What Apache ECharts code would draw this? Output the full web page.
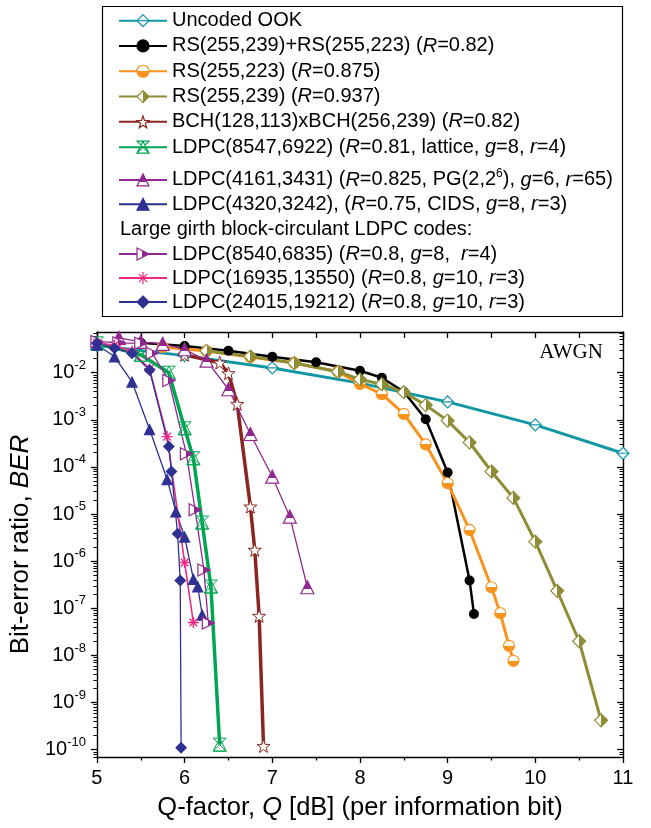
<!DOCTYPE html>
<html><head><meta charset="utf-8">
<script src="https://cdn.jsdelivr.net/npm/echarts@6/dist/echarts.min.js"></script>
<style>html,body{margin:0;padding:0;background:#fff}#c{width:651px;height:828px}</style>
</head><body><div id="c"></div>
<script>
// ---------- data (Q in dB, BER) ----------
const uncodedQ = [5, 6, 7, 8, 9, 10, 11];
const uncodedBER = [3.77e-2, 2.3e-2, 1.26e-2, 6.0e-3, 2.4e-3, 7.8e-4, 1.95e-4];

const rsrsQ = [5.5, 6, 6.5, 7, 7.5, 8, 8.25, 8.5, 8.75, 9, 9.25, 9.3];
const rsrsBER = [4.3e-2, 3.68e-2, 2.92e-2, 2.18e-2, 1.66e-2, 1.1e-2, 7.8e-3, 3.95e-3, 1.03e-3, 7.6e-5, 3.9e-7, 7.6e-8];

const rs223Q = [5.75, 6.25, 6.75, 7.25, 7.75, 8, 8.25, 8.5, 8.75, 9, 9.25, 9.5, 9.6, 9.7, 9.75];
const rs223BER = [3.5e-2, 2.88e-2, 2.15e-2, 1.61e-2, 1.05e-2, 5.8e-3, 3.5e-3, 1.33e-3, 3.0e-4, 4.5e-5, 4.6e-6, 2.8e-7, 7.9e-8, 1.6e-8, 7.7e-9];

const rs239Q = [6.25, 6.75, 7.25, 7.75, 8, 8.25, 8.5, 8.75, 9, 9.25, 9.5, 9.75, 10, 10.25, 10.5, 10.75];
const rs239BER = [2.9e-2, 2.2e-2, 1.6e-2, 1.05e-2, 7.2e-3, 5.7e-3, 3.85e-3, 2.05e-3, 9.6e-4, 3.3e-4, 8.0e-5, 2.2e-5, 2.6e-6, 2.35e-7, 2.0e-8, 4.2e-10];

const bchQ = [6, 6.4, 6.5, 6.6, 6.75, 6.8, 6.85, 6.9];
const bchBER = [2.4e-2, 1.63e-2, 9.7e-3, 2.17e-3, 1.44e-5, 1.74e-6, 6.9e-8, 1.2e-10];

const latticeQ = [5.0, 5.5, 5.82, 6.0, 6.1, 6.2, 6.3, 6.4];
const latticeBER = [4.2e-2, 2.4e-2, 1.0e-2, 6.6e-4, 1.53e-4, 6.6e-6, 2.9e-7, 1.28e-10];

const pgQ = [5.25, 5.5, 5.75, 6, 6.25, 6.5, 6.75, 7, 7.2, 7.4];
const pgBER = [5.5e-2, 4.5e-2, 4.07e-2, 3.14e-2, 1.8e-2, 4.45e-3, 5.0e-4, 6.2e-5, 8.8e-6, 2.8e-7];

const cidsQ = [5.0, 5.2, 5.4, 5.6, 5.8, 5.9, 6.0, 6.1, 6.15, 6.2];
const cidsBER = [3.9e-2, 2.2e-2, 6.4e-3, 6.3e-4, 5.5e-5, 1.13e-5, 3.3e-6, 4.2e-7, 2.9e-7, 7.3e-8];

const bc8540Q = [5.0, 5.25, 5.5, 5.63, 5.82, 6.02, 6.12, 6.22, 6.27];
const bc8540BER = [4.6e-2, 4.3e-2, 4.2e-2, 2.58e-2, 6.8e-3, 1.9e-4, 1.23e-5, 6.5e-7, 4.85e-8];

const bc16935Q = [5.0, 5.2, 5.4, 5.6, 5.8, 6.0, 6.1];
const bc16935BER = [4.3e-2, 3.8e-2, 2.8e-2, 1.2e-2, 4.4e-4, 9.35e-7, 5.0e-8];

const bc24015Q = [5.0, 5.2, 5.4, 5.6, 5.82, 5.85, 5.92, 5.95, 5.96];
const bc24015BER = [4.2e-2, 3.3e-2, 2.58e-2, 1.14e-2, 2.7e-4, 8.0e-5, 3.8e-6, 3.9e-7, 1.1e-10];

const seriesNames = [
  'Uncoded OOK',
  'RS(255,239)+RS(255,223) (R=0.82)',
  'RS(255,223) (R=0.875)',
  'RS(255,239) (R=0.937)',
  'BCH(128,113)xBCH(256,239) (R=0.82)',
  'LDPC(8547,6922) (R=0.81, lattice, g=8, r=4)',
  'LDPC(4161,3431) (R=0.825, PG(2,2^6), g=6, r=65)',
  'LDPC(4320,3242), (R=0.75, CIDS, g=8, r=3)',
  'LDPC(8540,6835) (R=0.8, g=8,  r=4)',
  'LDPC(16935,13550) (R=0.8, g=10, r=3)',
  'LDPC(24015,19212) (R=0.8, g=10, r=3)'
];
const legendRich = [
  'Uncoded OOK',
  'RS(255,239)+RS(255,223) ({i|R}=0.82)',
  'RS(255,223) ({i|R}=0.875)',
  'RS(255,239) ({i|R}=0.937)',
  'BCH(128,113)xBCH(256,239) ({i|R}=0.82)',
  'LDPC(8547,6922) ({i|R}=0.81, lattice, {i|g}=8, {i|r}=4)',
  'LDPC(4161,3431) ({i|R}=0.825, PG(2,2{s|6}), {i|g}=6, {i|r}=65)',
  'LDPC(4320,3242), ({i|R}=0.75, CIDS, {i|g}=8, {i|r}=3)',
  'LDPC(8540,6835) ({i|R}=0.8, {i|g}=8,  {i|r}=4)',
  'LDPC(16935,13550) ({i|R}=0.8, {i|g}=10, {i|r}=3)',
  'LDPC(24015,19212) ({i|R}=0.8, {i|g}=10, {i|r}=3)'
];
const legendHeader = 'Large girth block-circulant LDPC codes:';
const yMajor = [-10, -9, -8, -7, -6, -5, -4, -3, -2];
const xTitle = 'Q-factor, {i|Q} [dB] (per information bit)';
const yTitle = 'Bit-error ratio, {i|BER}';

// ---------- styling ----------
const Y_MIN = -10.155, Y_MAX = -1.137;
const FONT = 'Liberation Sans';
const C = {
  teal: '#1097A3', black: '#000000', orange: '#F7931E', olive: '#8E8C35',
  red: '#8B2520', green: '#00A651', purple: '#92278F', navy: '#2E3192', pink: '#EC2A84'
};
function split(dir, a, b, at) {
  return {type: 'linear', x: 0, y: 0, x2: dir === 'h' ? 1 : 0, y2: dir === 'h' ? 0 : 1,
    colorStops: [{offset: 0, color: a}, {offset: at, color: a}, {offset: at, color: b}, {offset: 1, color: b}]};
}
const STAR = 'path://M50,2 L61.8,36.1 L97.6,36.8 L69.1,58.5 L79.4,92.8 L50,72.3 L20.6,92.8 L30.9,58.5 L2.4,36.8 L38.2,36.1 Z';
const HOUR = 'path://M0,0 L10,0 L0,10 L10,10 Z M5,0 L10,10 L0,10 Z';
const AST = 'path://M5,0 L5,10 M0,5 L10,5 M1.5,1.5 L8.5,8.5 M8.5,1.5 L1.5,8.5';
const RTRI = 'path://M0,0 L10,5 L0,10 Z';
const DIAMBAR = 'path://M5,0 L10,5 L5,10 L0,5 Z M0,5 L10,5';

function mk(idx, qs, bers, color, lw, symbol, size, fill, bw) {
  return {
    name: seriesNames[idx], type: 'line', xAxisIndex: 0, yAxisIndex: 0,
    data: qs.map((q, i) => [q, Math.log10(bers[i])]),
    lineStyle: {color: color, width: lw},
    symbol: symbol, symbolSize: size,
    itemStyle: {color: fill, borderColor: color, borderWidth: bw},
    emphasis: {disabled: true}, silent: true
  };
}
const series = [
  mk(0, uncodedQ, uncodedBER, C.teal, 3, DIAMBAR, 12, '#fff', 1.2),
  mk(1, rsrsQ, rsrsBER, C.black, 2.5, 'circle', 10, C.black, 0),
  mk(2, rs223Q, rs223BER, C.orange, 3, 'circle', 11, split('v', '#fff', C.orange, 0.5), 1.2),
  mk(3, rs239Q, rs239BER, C.olive, 3, 'diamond', 13, split('h', '#fff', C.olive, 0.5), 1.2),
  mk(4, bchQ, bchBER, C.red, 3.5, STAR, 13, '#fff', 1),
  mk(5, latticeQ, latticeBER, C.green, 3.5, HOUR, 13, 'rgba(255,255,255,0)', 1),
  mk(6, pgQ, pgBER, C.purple, 1.3, 'triangle', 13, split('v', C.purple, '#fff', 0.62), 1.2),
  mk(7, cidsQ, cidsBER, C.navy, 1.3, 'triangle', 12, C.navy, 0),
  mk(8, bc8540Q, bc8540BER, C.purple, 1.3, RTRI, 12, split('h', '#fff', C.purple, 0.45), 1.2),
  mk(9, bc16935Q, bc16935BER, C.pink, 1.6, AST, 11, 'rgba(255,255,255,0)', 1.4),
  mk(10, bc24015Q, bc24015BER, C.navy, 1.3, 'diamond', 12, C.navy, 0)
];

const minorVals = [];
for (let n = -11; n <= -2; n++) for (let k = 2; k <= 9; k++) {
  const v = n + Math.log10(k);
  if (v > Y_MIN && v < Y_MAX) minorVals.push(v);
}
const labelMap = {};
seriesNames.forEach((n, i) => labelMap[n] = legendRich[i]);

function legend(names, top, lh, withSup) {
  const rich = {i: {fontFamily: FONT, fontSize: 20, fontStyle: 'italic', lineHeight: lh, color: '#000'}};
  if (withSup) rich.s = {fontFamily: FONT, fontSize: 12, lineHeight: 10, verticalAlign: 'top', color: '#000'};
  return {
    orient: 'vertical', left: 118, top: top, padding: 0, itemGap: 0,
    itemWidth: 48, itemHeight: 15, selectedMode: false,
    data: names, formatter: n => labelMap[n],
    itemStyle: {borderWidth: 1.2},
    textStyle: {fontFamily: FONT, fontSize: 20, color: '#000', lineHeight: lh, rich: rich}
  };
}
const axisLine = {show: true, lineStyle: {color: '#000', width: 1.4}};
const yBase = {type: 'value', min: Y_MIN, max: Y_MAX, gridIndex: 0, splitLine: {show: false}};

const option = {
  animation: false,
  backgroundColor: '#fff',
  grid: {left: 94, right: 28, top: 332, bottom: 71, containLabel: false},
  legend: [
    legend(seriesNames.slice(0, 6), 8, 25.3, false),
    legend(seriesNames.slice(6, 8), 167.8, 24.3, true),
    legend(seriesNames.slice(8, 11), 242, 24, false)
  ],
  xAxis: [
    {type: 'value', min: 5, max: 11, interval: 1, position: 'bottom', axisLine: axisLine,
     axisTick: {show: true, inside: false, length: 6, lineStyle: {color: '#000', width: 1.3}},
     minorTick: {show: true, splitNumber: 2, length: 3.5, lineStyle: {color: '#000', width: 1.3}},
     splitLine: {show: false}, minorSplitLine: {show: false},
     axisLabel: {margin: 11, fontFamily: FONT, fontSize: 20, color: '#000'},
     name: xTitle, nameLocation: 'middle', nameGap: 38,
     nameTextStyle: {fontFamily: FONT, fontSize: 25.5, color: '#000',
       rich: {i: {fontFamily: FONT, fontSize: 25.5, fontStyle: 'italic', color: '#000'}}}},
    {type: 'value', min: 5, max: 11, interval: 0.5, position: 'top', axisLine: axisLine,
     axisTick: {show: true, inside: true, length: 6, lineStyle: {color: '#000', width: 1.3}},
     axisLabel: {show: false}, splitLine: {show: false}}
  ],
  yAxis: [
    Object.assign({}, yBase, {position: 'left', axisLine: axisLine,
      axisTick: {show: true, inside: false, length: 6, customValues: yMajor, lineStyle: {color: '#000', width: 1.3}},
      axisLabel: {show: true, customValues: yMajor, margin: 11, align: 'right',
        formatter: v => '{b|10}{s|' + Math.round(v) + '}',
        rich: {b: {fontFamily: FONT, fontSize: 20, lineHeight: 28, color: '#000'},
               s: {fontFamily: FONT, fontSize: 13, lineHeight: 12, verticalAlign: 'top', color: '#000'}}},
      name: yTitle, nameLocation: 'middle', nameGap: 57, nameRotate: 90,
      nameTextStyle: {fontFamily: FONT, fontSize: 26, color: '#000',
        rich: {i: {fontFamily: FONT, fontSize: 26, fontStyle: 'italic', color: '#000'}}}}),
    Object.assign({}, yBase, {position: 'left', axisLine: {show: false},
      axisTick: {show: true, inside: false, length: 3.5, customValues: minorVals, lineStyle: {color: '#000', width: 1}},
      axisLabel: {show: false}}),
    Object.assign({}, yBase, {position: 'right', axisLine: axisLine,
      axisTick: {show: true, inside: true, length: 6, customValues: yMajor, lineStyle: {color: '#000', width: 1.3}},
      axisLabel: {show: false}}),
    Object.assign({}, yBase, {position: 'right', axisLine: {show: false},
      axisTick: {show: true, inside: true, length: 3.5, customValues: minorVals, lineStyle: {color: '#000', width: 1}},
      axisLabel: {show: false}})
  ],
  graphic: [
    {type: 'rect', shape: {x: 102.5, y: 6.5, width: 520, height: 310}, style: {fill: 'none', stroke: '#000', lineWidth: 1.2}, silent: true},
    {type: 'text', x: 120, y: 229, style: {text: legendHeader, font: '20px "Liberation Sans"', fill: '#000', textVerticalAlign: 'middle'}, silent: true},
    {type: 'text', x: 571, y: 352, style: {text: 'AWGN', font: '21px "Liberation Serif"', fill: '#000', textAlign: 'center', textVerticalAlign: 'middle'}, silent: true}
  ],
  series: series
};
const chart = echarts.init(document.getElementById('c'), null, {renderer: 'canvas'});
chart.setOption(option);
</script></body></html>
